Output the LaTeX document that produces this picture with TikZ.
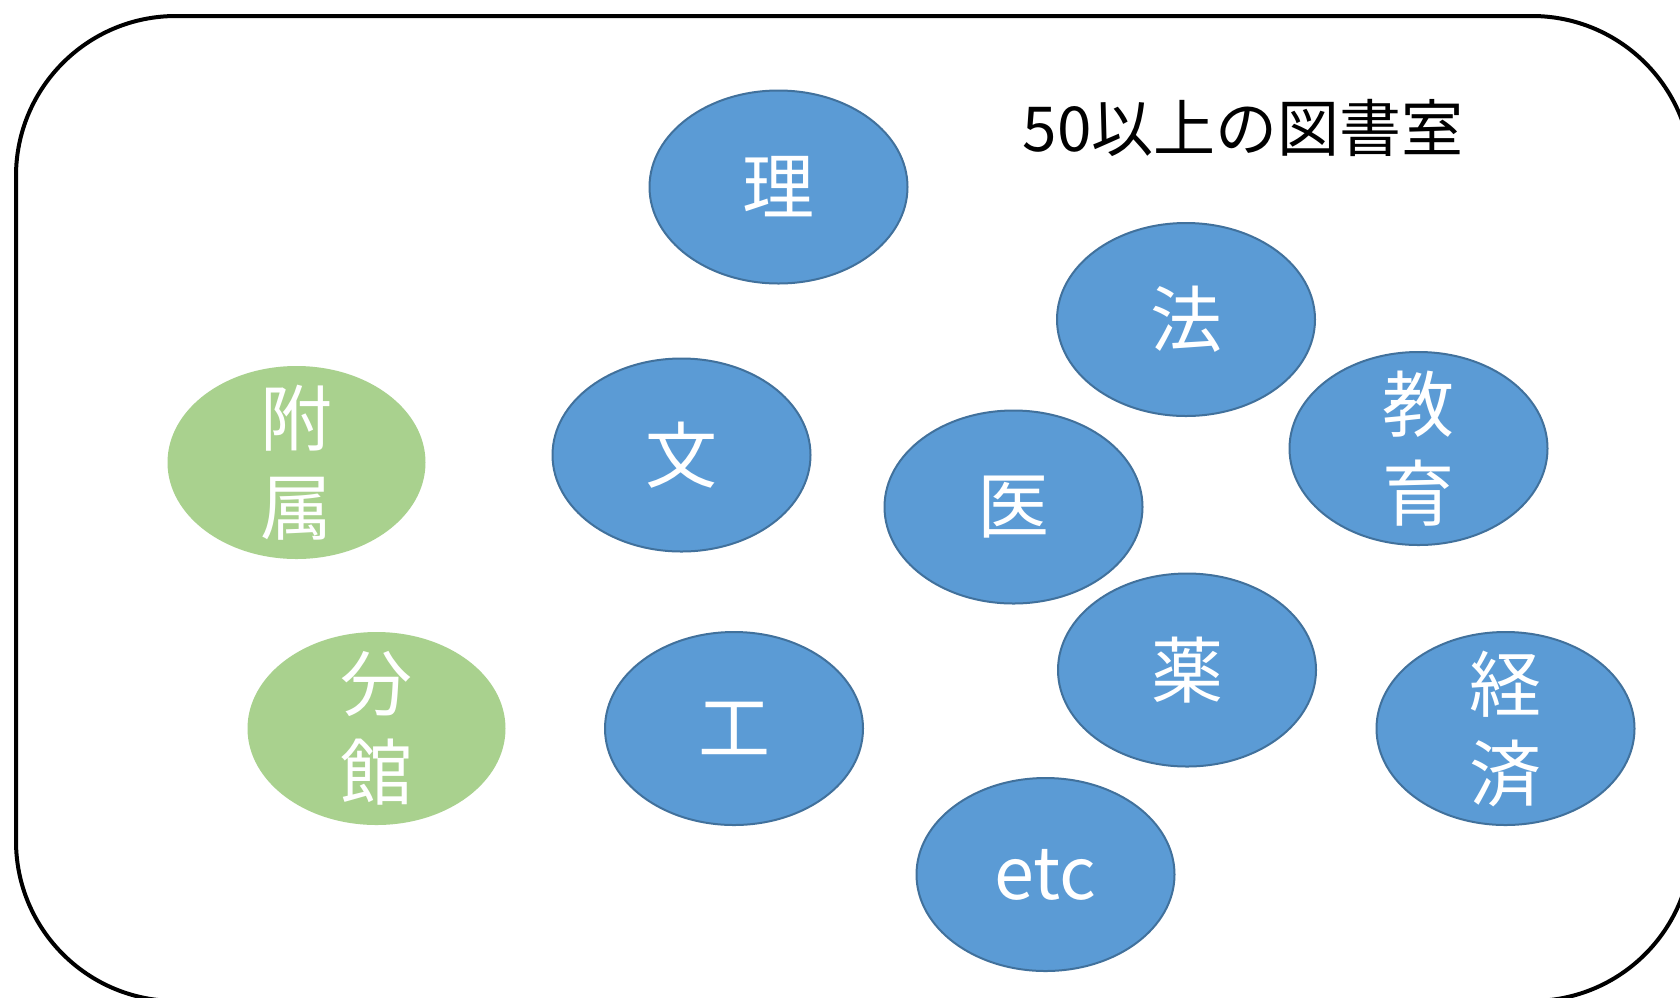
\documentclass[tikz,border=0pt]{standalone}
\usepackage{fontspec}
\setmainfont{Noto Sans CJK JP}
\usetikzlibrary{shapes.geometric}
\definecolor{bluefill}{HTML}{5B9BD5}
\definecolor{blueline}{HTML}{41719C}
\definecolor{greenfill}{HTML}{A9D18E}
\tikzset{
  unittext/.style={text=white, align=center, font=\fontsize{72}{89}\selectfont, inner sep=0pt},
  unit/.style={ellipse, minimum width=258pt, minimum height=193pt, inner sep=0pt, unittext},
  faculty/.style={unit, fill=bluefill, draw=blueline, line width=2pt},
  branch/.style={unit, fill=greenfill},
  frame/.style={draw=black, line width=4pt, rounded corners=160pt},
  heading/.style={font=\fontsize{62}{70}\selectfont, text=black}
}
\begin{document}
\begin{tikzpicture}[x=1pt, y=-1pt]
\useasboundingbox (0,0) rectangle (1680,997);
\clip (0,0) rectangle (1680,997);
\fill[white] (0,0) rectangle (1680,997);
\draw[frame] (16,16) rectangle (1692,1001);
\node[heading] (title) at (1243,128) {50以上の図書室};
\node[faculty] (ri) at (778.5,187) {理};
\node[faculty] (hou) at (1186,319.5) {法};
\node[faculty, label={[unittext]center:教\\育}] (kyoiku) at (1418.5,448.5) {};
\node[branch, label={[unittext]center:附\\属}] (fuzoku) at (296.5,462.5) {};
\node[faculty] (bun) at (681.5,455) {文};
\node[faculty] (i) at (1013.5,507) {医};
\node[faculty] (yaku) at (1187,670) {薬};
\node[branch, label={[unittext]center:分\\館}] (bunkan) at (376.5,728.5) {};
\node[faculty] (kou) at (734,728.5) {工};
\node[faculty, label={[unittext]center:経\\済}] (keizai) at (1505.5,728.5) {};
\node[faculty] (etc) at (1045.5,874.5) {etc};
\end{tikzpicture}
\end{document}
